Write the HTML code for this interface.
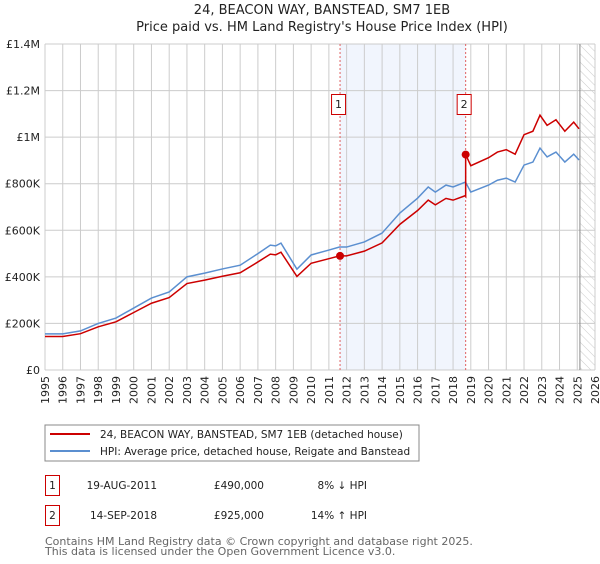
<!DOCTYPE html>
<html><head><meta charset="utf-8"><style>
body{margin:0;background:#fff;font-family:"DejaVu Sans","Liberation Sans",sans-serif;}
svg text{font-family:"DejaVu Sans","Liberation Sans",sans-serif;}
</style></head><body>
<svg id="chart" width="600" height="560" xmlns="http://www.w3.org/2000/svg">
<defs><pattern id="hatch" width="6" height="6" patternUnits="userSpaceOnUse" patternTransform="rotate(-45)"><line x1="0" y1="0" x2="0" y2="6" stroke="#ccc" stroke-width="1"/></pattern></defs>
<text x="322" y="14" text-anchor="middle" font-size="13" fill="#222">24, BEACON WAY, BANSTEAD, SM7 1EB</text>
<text x="322" y="31" text-anchor="middle" font-size="13" fill="#222">Price paid vs. HM Land Registry's House Price Index (HPI)</text>
<g id="plot"></g>
<rect x="45" y="425" width="374" height="36" fill="#fff" stroke="#888"/>
<line x1="50" y1="434" x2="90" y2="434" stroke="#cc0000" stroke-width="2"/>
<text x="100" y="438" font-size="10.5" fill="#222">24, BEACON WAY, BANSTEAD, SM7 1EB (detached house)</text>
<line x1="50" y1="451" x2="90" y2="451" stroke="#5b8fd0" stroke-width="2"/>
<text x="100" y="455" font-size="10.5" fill="#222">HPI: Average price, detached house, Reigate and Banstead</text>
<g font-size="10.5" fill="#222">
<rect x="45.5" y="475.5" width="14" height="20" fill="none" stroke="#cc0000"/>
<text x="52.5" y="489" text-anchor="middle">1</text>
<text x="157" y="489" text-anchor="end">19-AUG-2011</text>
<text x="264" y="489" text-anchor="end">£490,000</text>
<text x="367" y="489" text-anchor="end">8% ↓ HPI</text>
<rect x="45.5" y="505.5" width="14" height="20" fill="none" stroke="#cc0000"/>
<text x="52.5" y="519" text-anchor="middle">2</text>
<text x="157" y="519" text-anchor="end">14-SEP-2018</text>
<text x="264" y="519" text-anchor="end">£925,000</text>
<text x="367" y="519" text-anchor="end">14% ↑ HPI</text>
</g>
<text x="45" y="545" font-size="11" fill="#666">Contains HM Land Registry data © Crown copyright and database right 2025.</text>
<text x="45" y="555" font-size="11" fill="#666">This data is licensed under the Open Government Licence v3.0.</text>
</svg>
<script>
const yTicks=[0,200000,400000,600000,800000,1000000,1200000,1400000];
const yTickLabels=["£0","£200K","£400K","£600K","£800K","£1M","£1.2M","£1.4M"];
const xYears=[1995,1996,1997,1998,1999,2000,2001,2002,2003,2004,2005,2006,2007,2008,2009,2010,2011,2012,2013,2014,2015,2016,2017,2018,2019,2020,2021,2022,2023,2024,2025,2026];
const hpiT=[1995,1996,1997,1998,1999,2000,2001,2002,2003,2004,2005,2006,2007,2007.7,2008,2008.3,2009.2,2010,2011,2011.6,2012,2013,2014,2015,2016,2016.6,2017,2017.6,2018,2018.7,2019,2020,2020.5,2021,2021.5,2022,2022.5,2022.9,2023.3,2023.8,2024.3,2024.8,2025.1];
const hpiV=[155000,155000,168000,200000,223000,266000,309000,335000,400000,416000,434000,450000,500000,536000,533000,545000,433000,494000,515000,528000,528000,550000,588000,674000,738000,786000,764000,794000,786000,807000,764000,794000,815000,824000,807000,880000,893000,953000,915000,936000,893000,927000,902000];
const saleT=[2011.63,2018.71];
const saleV=[490000,925000];
const saleLabels=["1","2"];

const NS="http://www.w3.org/2000/svg";
const X0=45,X1=595,Y0=370,Y1=44;
const xs=t=>X0+(t-1995)/(2026-1995)*(X1-X0);
const ys=v=>Y0-v/1400000*(Y0-Y1);
const g=document.getElementById('plot');
function mk(tag,attrs){const e=document.createElementNS(NS,tag);for(const k in attrs)e.setAttribute(k,attrs[k]);g.appendChild(e);return e;}

let e=mk('rect',{x:xs(saleT[0]),y:Y1,width:xs(saleT[1])-xs(saleT[0]),height:Y0-Y1,fill:'#eef3fc',opacity:0.8});


e=mk('rect',{x:xs(2025.15),y:Y1,width:X1-xs(2025.15),height:Y0-Y1,fill:'url(#hatch)'});


xYears.forEach(yr=>{const l=mk('line',{x1:xs(yr),x2:xs(yr),y1:Y1,y2:Y0,stroke:'#ccc','stroke-width':1});


const tx=xs(yr)+4,ty=Y0+6;
const t=mk('text',{x:tx,y:ty,'text-anchor':'end','font-size':11,fill:'#222',transform:'rotate(-90 '+tx+' '+ty+')'});t.textContent=yr;

});
yTicks.forEach((v,i)=>{const l=mk('line',{x1:X0,x2:X1,y1:ys(v),y2:ys(v),stroke:'#ccc','stroke-width':1});


const t=mk('text',{x:X0-5,y:ys(v)+4,'text-anchor':'end','font-size':11,fill:'#222'});t.textContent=yTickLabels[i];

});
e=mk('line',{x1:xs(2025.15),x2:xs(2025.15),y1:Y1,y2:Y0,stroke:'#888','stroke-width':1});


saleT.forEach((t,i)=>{const l=mk('line',{x1:xs(t),x2:xs(t),y1:Y1,y2:Y0,stroke:'#e06060','stroke-width':1,'stroke-dasharray':'2,2'});

});
function hpiAt(t){for(let i=1;i<hpiT.length;i++){if(t<=hpiT[i]){const f=(t-hpiT[i-1])/(hpiT[i]-hpiT[i-1]);return hpiV[i-1]+f*(hpiV[i]-hpiV[i-1]);}}return hpiV[hpiV.length-1];}
e=mk('polyline',{points:hpiT.map((t,i)=>xs(t)+','+ys(hpiV[i])).join(' '),fill:'none',stroke:'#5b8fd0','stroke-width':1.5});


const r1=saleV[0]/hpiAt(saleT[0]),r2=saleV[1]/hpiAt(saleT[1]);
const pts=[];
hpiT.forEach((t,i)=>{if(t<saleT[1])pts.push([t,hpiV[i]*r1]);});
pts.push([saleT[1],hpiAt(saleT[1])*r1]);pts.push([saleT[1],saleV[1]]);
hpiT.forEach((t,i)=>{if(t>saleT[1])pts.push([t,hpiV[i]*r2]);});
e=mk('polyline',{points:pts.map(p=>xs(p[0])+','+ys(p[1])).join(' '),fill:'none',stroke:'#cc0000','stroke-width':1.5});


saleT.forEach((t,i)=>{const c=mk('circle',{cx:xs(t),cy:ys(saleV[i]),r:4,fill:'#cc0000'});


const bx=xs(t)-8;
const b=mk('rect',{x:bx-0.5,y:94.5,width:14,height:20,fill:'#fff',stroke:'#cc0000'});


const tt=mk('text',{x:bx+6.5,y:108,'text-anchor':'middle','font-size':11,fill:'#222'});tt.textContent=saleLabels[i];

});
</script>
</body></html>
